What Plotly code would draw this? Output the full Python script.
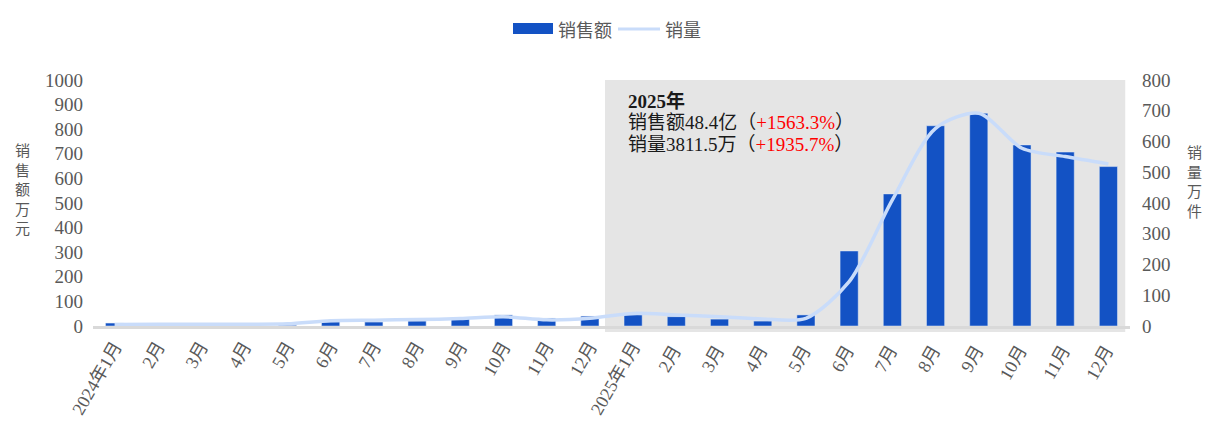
import plotly.graph_objects as go

categories = ["2024年1月", "2月", "3月", "4月", "5月", "6月", "7月", "8月", "9月", "10月", "11月", "12月",
              "2025年1月", "2月 ", "3月 ", "4月 ", "5月 ", "6月 ", "7月 ", "8月 ", "9月 ", "10月 ", "11月 ", "12月 "]
sales_amount = [12, 2, 2, 2, 3, 17, 16, 20, 32, 45, 32, 40,
                45, 38, 28, 20, 45, 305, 537, 814, 865, 736, 707, 648]
sales_volume = [5, 6, 6, 6, 7, 17, 19, 21, 24, 30, 20, 25,
                41, 36, 30, 23, 25, 144, 410, 643, 692, 578, 551, 527]
left_ticks = list(range(0, 1001, 100))
right_ticks = list(range(0, 801, 100))
left_title = "销售额万元"
right_title = "销量万件"

FONT = "Liberation Serif, Noto Sans CJK SC, serif"
GRAY = "#595959"
BAR_COLOR = "#1352c4"
LINE_COLOR = "#c9dcfa"

# plot area in screen pixels (page has 8px body margin)
PL, PR, PT, PB = 93, 1130, 80, 326


def px_x(px):
    return (px - PL) / (PR - PL)


def px_y(py):
    return (PB - py) / (PB - PT)


fig = go.Figure()
fig.add_trace(go.Bar(x=categories, y=sales_amount, name="销售额", marker_color=BAR_COLOR,
                     yaxis="y", showlegend=False))
fig.add_trace(go.Scatter(x=categories, y=sales_volume, name="销量", mode="lines",
                         line=dict(color=LINE_COLOR, width=3.5, shape="spline", smoothing=0.8),
                         yaxis="y2", showlegend=False))

fig.update_layout(
    width=1214, height=441,
    margin=dict(l=PL - 8, r=1214 + 8 - PR, t=PT - 8, b=441 + 8 - PB, autoexpand=False),
    paper_bgcolor="white", plot_bgcolor="rgba(0,0,0,0)",
    font=dict(family=FONT, color=GRAY, size=18),
    bargap=0.58,
    xaxis=dict(type="category", tickangle=-60, showgrid=False, showline=True,
               linecolor="#d9d9d9", linewidth=3, ticks="", tickfont=dict(size=18, color=GRAY),
               range=[-0.5, 23.5], automargin=False),
    yaxis=dict(range=[0, 1000], tickvals=left_ticks, showgrid=False, zeroline=False,
               showline=False, ticks="", tickfont=dict(size=19, color=GRAY), automargin=False,
               ticklabelstandoff=9),
    yaxis2=dict(range=[0, 800], tickvals=right_ticks, overlaying="y", side="right",
                showgrid=False, zeroline=False, showline=False, ticks="",
                tickfont=dict(size=19, color=GRAY), automargin=False, ticklabelstandoff=11),
)

# shaded 2025 region
fig.add_shape(type="rect", xref="x", yref="paper", x0=11.35, x1=23.39, y0=px_y(332), y1=1.0,
              fillcolor="#e5e5e5", line_width=0, layer="below")

# annotation text lines
RED = "#ff0000"
lines = [
    ("<b>2025年</b>", 101),
    ("销售额48.4亿（<span style='color:%s'>+1563.3%%</span>）" % RED, 122),
    ("销量3811.5万（<span style='color:%s'>+1935.7%%</span>）" % RED, 144),
]
for txt, yc in lines:
    fig.add_annotation(xref="paper", yref="paper", x=px_x(626), y=px_y(yc),
                       xanchor="left", yanchor="middle", align="left", showarrow=False,
                       text=txt, font=dict(size=19, color="#1a1a1a", family=FONT))

# axis titles (vertical stacked characters)
fig.add_annotation(xref="paper", yref="paper", x=px_x(22), y=px_y(188),
                   text="<br>".join(left_title), showarrow=False, xanchor="center",
                   yanchor="middle", align="center", borderpad=0,
                   font=dict(size=15, color=GRAY, family="Noto Sans CJK SC"))
fig.add_annotation(xref="paper", yref="paper", x=px_x(1194), y=px_y(181),
                   text="<br>".join(right_title), showarrow=False, xanchor="center",
                   yanchor="middle", align="center", borderpad=0,
                   font=dict(size=15, color=GRAY, family="Noto Sans CJK SC"))

# manual legend
fig.add_shape(type="rect", xref="paper", yref="paper", x0=px_x(513), x1=px_x(553),
              y0=px_y(34), y1=px_y(23), fillcolor=BAR_COLOR, line_width=0)
fig.add_annotation(xref="paper", yref="paper", x=px_x(556), y=px_y(29), text="销售额",
                   showarrow=False, xanchor="left", yanchor="middle",
                   font=dict(size=18, color=GRAY, family="Noto Sans CJK SC"))
fig.add_shape(type="line", xref="paper", yref="paper", x0=px_x(618), x1=px_x(660),
              y0=px_y(29), y1=px_y(29), line=dict(color=LINE_COLOR, width=3))
fig.add_annotation(xref="paper", yref="paper", x=px_x(663), y=px_y(29), text="销量",
                   showarrow=False, xanchor="left", yanchor="middle",
                   font=dict(size=18, color=GRAY, family="Noto Sans CJK SC"))

fig.write_html("out.html")
